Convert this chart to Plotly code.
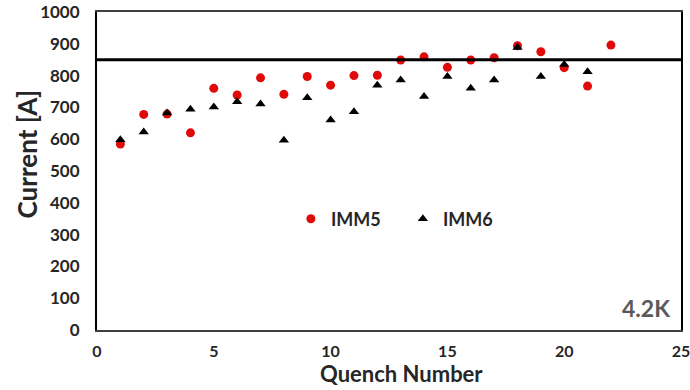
import plotly.graph_objects as go

# Quench training data at 4.2 K
quench_imm5 = list(range(1, 23))
current_imm5 = [585, 678, 679, 620, 760, 739, 793, 741, 797, 770, 800, 801,
                849, 859, 826, 849, 856, 894, 875, 825, 767, 896]

quench_imm6 = list(range(1, 22))
current_imm6 = [598, 623, 682, 694, 701, 718, 711, 597, 730, 660, 686, 770,
                786, 734, 797, 760, 786, 888, 797, 835, 812]

reference_current = 850
x_ticks = [0, 5, 10, 15, 20, 25]
y_ticks = [0, 100, 200, 300, 400, 500, 600, 700, 800, 900, 1000]

FONT = "Lato"
DARK = "#262626"

fig = go.Figure()
fig.add_trace(go.Scatter(
    x=quench_imm5, y=current_imm5, mode="markers", name="IMM5",
    marker=dict(symbol="circle", size=9, color="#e00a0a"),
))
fig.add_trace(go.Scatter(
    x=quench_imm6, y=current_imm6, mode="markers", name="IMM6",
    marker=dict(symbol="triangle-up", size=9, color="#000000"),
))

# Horizontal reference level across the whole plot
fig.add_shape(type="line", xref="paper", x0=0, x1=1, yref="y",
              y0=reference_current, y1=reference_current,
              line=dict(color="black", width=3))

fig.update_layout(
    width=690, height=390,
    margin=dict(l=97, r=9, t=12, b=60, autoexpand=False),
    paper_bgcolor="white", plot_bgcolor="white",
    font=dict(family=FONT, color=DARK),
    showlegend=True,
    legend=dict(
        orientation="h", x=0.332, y=0.349, xanchor="left", yanchor="middle",
        bgcolor="rgba(0,0,0,0)", font=dict(family=FONT, size=18, color=DARK, weight="bold"),
        entrywidth=67, entrywidthmode="pixels", itemsizing="trace",
    ),
    xaxis=dict(
        range=[0, 25], tickvals=x_ticks, showgrid=False, zeroline=False,
        showline=True, linecolor="#404040", linewidth=2, mirror=True,
        ticks="", automargin=False, ticklabelstandoff=6, ticklabeloverflow="allow",
        tickfont=dict(family=FONT, size=16, color=DARK, weight="bold"),
    ),
    yaxis=dict(
        range=[0, 1000], tickvals=y_ticks, showgrid=False, zeroline=False,
        showline=True, linecolor="#000000", linewidth=2, mirror=True,
        ticks="", ticklabelstandoff=12, automargin=False, ticklabeloverflow="allow",
        tickfont=dict(family=FONT, size=17, color=DARK, weight="bold"),
    ),
    annotations=[
        dict(text="Quench Number", xref="paper", yref="paper", x=0.521, y=-0.187,
             xanchor="center", yanchor="bottom", showarrow=False,
             font=dict(family=FONT, size=22, color=DARK, weight="bold")),
        dict(text="Current [A]", xref="paper", yref="paper", x=-0.12, y=0.555,
             xanchor="center", yanchor="middle", textangle=-90, showarrow=False,
             font=dict(family=FONT, size=26, color=DARK, weight="bold")),
        dict(text="4.2K", xref="paper", yref="paper", x=0.985, y=0.07,
             xanchor="right", yanchor="middle", showarrow=False,
             font=dict(family=FONT, size=23, color="#595959", weight="bold")),
    ],
)

fig.write_html("out.html")
